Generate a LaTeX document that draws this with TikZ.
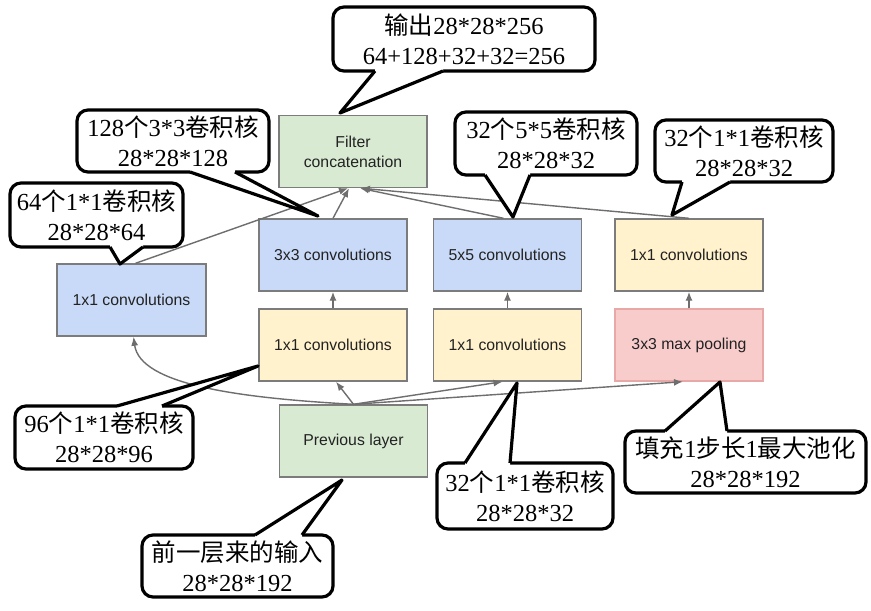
\documentclass[tikz,border=0pt]{standalone}
\usepackage{fontspec}
\setmainfont{Liberation Serif}
\newfontfamily\cjk{Noto Sans CJK SC}
\newfontfamily\boxfont{Liberation Sans}
\usetikzlibrary{arrows.meta,calc}
\definecolor{bblue}{HTML}{C9DAF8}
\definecolor{byellow}{HTML}{FFF2CC}
\definecolor{bpink}{HTML}{F9CCCC}
\definecolor{bgreen}{HTML}{D9EAD3}
\definecolor{boxline}{HTML}{7C7C7C}
\definecolor{pinkline}{HTML}{E8A8A8}
\definecolor{boxtext}{HTML}{222222}
\definecolor{arrowgrey}{HTML}{6E6E6E}
\tikzset{
  box/.style={draw=boxline, line width=1.4pt, minimum width=148pt, minimum height=72pt,
    inner sep=0pt, font=\boxfont\fontsize{15.8}{20}\selectfont, text=boxtext, align=center},
  callout/.style={draw=black, line width=3.2pt, rounded corners=11pt, fill=white,
    inner sep=0pt, align=center, font=\fontsize{24.5}{30}\selectfont},
  arr/.style={draw=arrowgrey, line width=1.4pt, -{Latex[length=9pt,width=7pt]}},
  tailline/.style={draw=black, line width=3.2pt, line join=round}
}
% #1 base x1, #2 base y, #3 base x2, #4 tip x, #5 tip y, #6 inner y
\newcommand\calltail[6]{%
  \fill[white] (#1,#6) -- (#1,#2) -- (#4,#5) -- (#3,#2) -- (#3,#6) -- cycle;
  \draw[tailline] (#1,#2) -- (#4,#5) -- (#3,#2);}
\begin{document}
\begin{tikzpicture}[x=1pt,y=-1pt]
\useasboundingbox (0,0) rectangle (871,611);
\fill[white] (0,0) rectangle (871,611);
% boxes
\node[box, fill=bgreen] (concat) at (353,151.5) {Filter\\concatenation};
\node[box, fill=bblue, minimum width=149pt] (c1) at (131.5,300) {1x1 convolutions};
\node[box, fill=bblue] (c3) at (333,255) {3x3 convolutions};
\node[box, fill=bblue] (c5) at (507.5,255) {5x5 convolutions};
\node[box, fill=byellow] (cp) at (689,255) {1x1 convolutions};
\node[box, fill=byellow] (r1) at (333,345) {1x1 convolutions};
\node[box, fill=byellow] (r2) at (507.5,345) {1x1 convolutions};
\node[box, fill=bpink, draw=pinkline] (pool) at (689,345) {3x3 max pooling};
\node[box, fill=bgreen] (prev) at (353.5,441) {Previous layer};
% connectors
\draw[arr] (prev.north) .. controls (240,398) and (140,385) .. ($(c1.south)+(2,0)$);
\draw[arr] (prev.north) -- ($(r1.south)+(3,0)$);
\draw[arr] (prev.north) -- ($(r2.south)+(-5,0)$);
\draw[arr] (prev.north) -- ($(pool.south)+(-6,0)$);
\draw[arr] (r1.north) -- (c3.south);
\draw[arr] (r2.north) -- (c5.south);
\draw[arr] (pool.north) -- (cp.south);
\draw[arr] ($(c1.north)+(4,0)$) -- ($(concat.south)+(-5,0)$);
\draw[arr] (c3.north) -- ($(concat.south)+(-4,0)$);
\draw[arr] ($(c5.north)+(-4,0)$) -- ($(concat.south)+(7,0)$);
\draw[arr] (cp.north) -- ($(concat.south)+(8,0)$);
% callouts
\node[callout, minimum width=262pt, minimum height=64pt] (k1) at (464,39)
  {{\cjk 输出}28*28*256\\64+128+32+32=256};
\calltail{375}{71}{443}{340}{113}{67}
\node[callout, minimum width=192pt, minimum height=62pt] (k2) at (173,141)
  {128{\cjk 个}3*3{\cjk 卷积核}\\28*28*128};
\calltail{190}{172}{235}{318}{216}{168}
\node[callout, minimum width=173pt, minimum height=64pt] (k3) at (96.5,215)
  {64{\cjk 个}1*1{\cjk 卷积核}\\28*28*64};
\calltail{110}{247}{143}{120}{264}{243}
\node[callout, minimum width=182pt, minimum height=63pt] (k4) at (546,143.5)
  {32{\cjk 个}5*5{\cjk 卷积核}\\28*28*32};
\calltail{485}{175}{530}{513}{217}{171}
\node[callout, minimum width=178pt, minimum height=62pt] (k5) at (744,151)
  {32{\cjk 个}1*1{\cjk 卷积核}\\28*28*32};
\calltail{682}{182}{730}{672}{215}{178}
\node[callout, minimum width=178pt, minimum height=63pt] (k6) at (104,437.5)
  {96{\cjk 个}1*1{\cjk 卷积核}\\28*28*96};
\calltail{117}{406}{162}{258}{366}{410}
\node[callout, minimum width=191pt, minimum height=62pt] (k7) at (237.5,566)
  {{\cjk 前一层来的输入}\\28*28*192};
\calltail{255}{535}{302}{342}{480}{539}
\node[callout, minimum width=176pt, minimum height=66pt] (k8) at (525,496)
  {32{\cjk 个}1*1{\cjk 卷积核}\\28*28*32};
\calltail{465}{463}{510}{517}{383}{467}
\node[callout, minimum width=241pt, minimum height=62pt] (k9) at (745.5,462)
  {{\cjk 填充}1{\cjk 步长}1{\cjk 最大池化}\\28*28*192};
\calltail{665}{431}{727}{720}{382}{435}
\end{tikzpicture}
\end{document}
